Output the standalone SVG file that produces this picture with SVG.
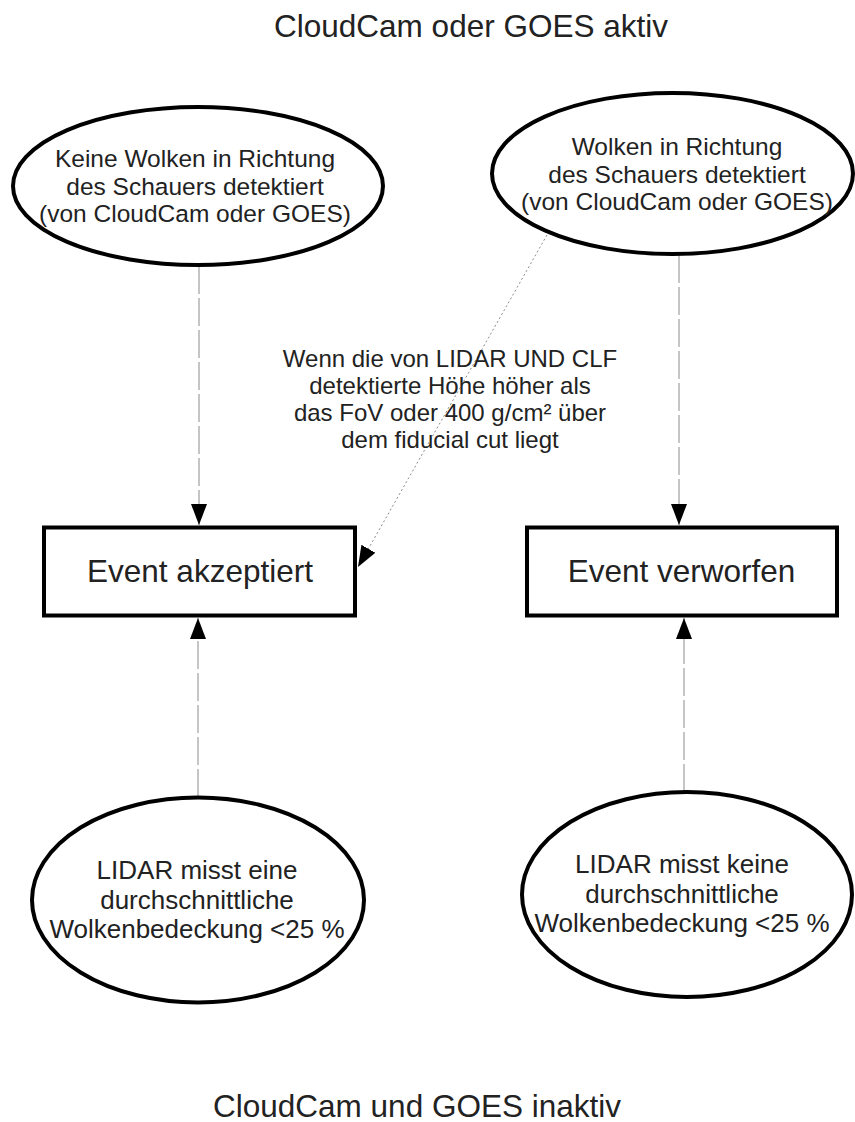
<svg xmlns="http://www.w3.org/2000/svg" width="855" height="1122" viewBox="0 0 855 1122">
  <style>
    .bg { fill: #ffffff; }
    .shape { fill: #ffffff; stroke: #000000; stroke-width: 4; }
    .t { font-family: "Liberation Sans", Arial, sans-serif; fill: #222222; text-anchor: middle; }
    .title { font-size: 31.5px; }
    .top { font-size: 24.5px; }
    .box { font-size: 31.5px; }
    .bot { font-size: 26px; }
    .lbl { font-size: 24px; }
    .edge { fill: none; stroke: #8c8c8c; stroke-width: 1; stroke-dasharray: 28 4; }
    .edge-dot { fill: none; stroke: #8c8c8c; stroke-width: 1; stroke-dasharray: 2 2.5; }
  </style>
  <defs>
    <marker id="arrow" markerUnits="userSpaceOnUse" markerWidth="22" markerHeight="18" viewBox="0 0 22 18" refX="21" refY="9" orient="auto">
      <path d="M0,1 L21,9 L0,17 Z" fill="#000000"/>
    </marker>
  </defs>
  <rect class="bg" x="0" y="0" width="855" height="1122"/>

  <g id="title-top">
    <text class="t title" x="471" y="37">CloudCam oder GOES aktiv</text>
  </g>
  <g id="title-bottom">
    <text class="t title" x="417" y="1117">CloudCam und GOES inaktiv</text>
  </g>

  <g id="connectors">
    <line class="edge" x1="199" y1="266" x2="199" y2="525" marker-end="url(#arrow)"/>
    <line class="edge" x1="679" y1="255" x2="679" y2="525" marker-end="url(#arrow)"/>
    <line class="edge" x1="198" y1="797" x2="198" y2="618" marker-end="url(#arrow)"/>
    <line class="edge" x1="684" y1="792" x2="684" y2="618" marker-end="url(#arrow)"/>
    <line class="edge-dot" x1="547" y1="235" x2="358" y2="567" marker-end="url(#arrow)"/>
    <text class="t lbl" x="450" y="367">Wenn die von LIDAR UND CLF</text>
    <text class="t lbl" x="450" y="394">detektierte Höhe höher als</text>
    <text class="t lbl" x="450" y="421">das FoV oder 400 g/cm² über</text>
    <text class="t lbl" x="450" y="448">dem fiducial cut liegt</text>
  </g>

  <g id="node-no-clouds">
    <ellipse class="shape" cx="198" cy="186" rx="185" ry="79"/>
    <text class="t top" x="195" y="167">Keine Wolken in Richtung</text>
    <text class="t top" x="195" y="194.5">des Schauers detektiert</text>
    <text class="t top" x="195" y="222">(von CloudCam oder GOES)</text>
  </g>

  <g id="node-clouds">
    <ellipse class="shape" cx="672.5" cy="173.5" rx="180.5" ry="80.5"/>
    <text class="t top" x="677" y="155">Wolken in Richtung</text>
    <text class="t top" x="677" y="183">des Schauers detektiert</text>
    <text class="t top" x="677" y="210">(von CloudCam oder GOES)</text>
  </g>

  <g id="node-accepted">
    <rect class="shape" x="44" y="527.5" width="311" height="88"/>
    <text class="t box" x="200" y="582">Event akzeptiert</text>
  </g>

  <g id="node-rejected">
    <rect class="shape" x="527" y="527.5" width="310" height="88"/>
    <text class="t box" x="681.5" y="582">Event verworfen</text>
  </g>

  <g id="node-lidar-low">
    <ellipse class="shape" cx="198" cy="900" rx="166" ry="102.5"/>
    <text class="t bot" x="197" y="879">LIDAR misst eine</text>
    <text class="t bot" x="197" y="909">durchschnittliche</text>
    <text class="t bot" x="197" y="938">Wolkenbedeckung &lt;25 %</text>
  </g>

  <g id="node-lidar-high">
    <ellipse class="shape" cx="687" cy="894.5" rx="165" ry="102.5"/>
    <text class="t bot" x="682" y="873">LIDAR misst keine</text>
    <text class="t bot" x="682" y="903">durchschnittliche</text>
    <text class="t bot" x="682" y="932">Wolkenbedeckung &lt;25 %</text>
  </g>
</svg>
